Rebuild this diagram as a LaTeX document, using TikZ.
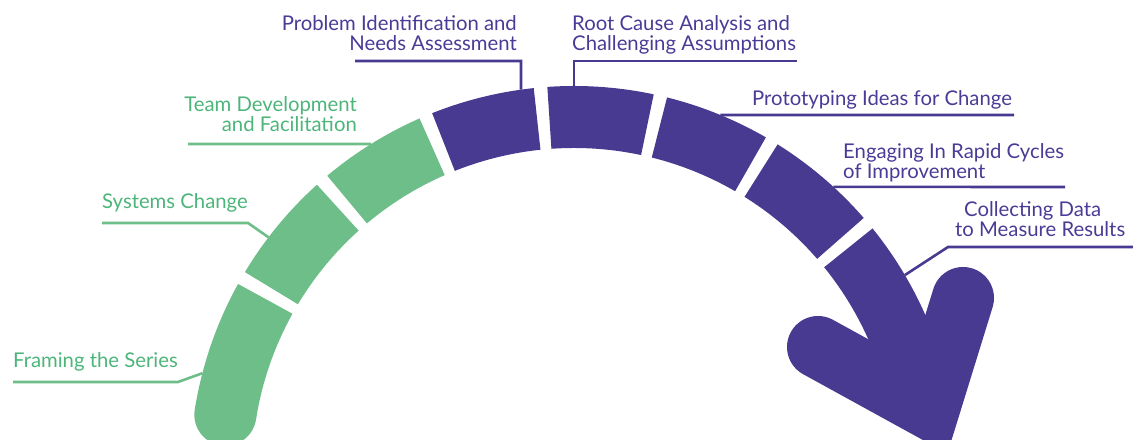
\documentclass[tikz,border=0pt]{standalone}
\usepackage{fontspec}
\setmainfont{Lato}
\usetikzlibrary{calc}
\definecolor{bandG}{HTML}{6EBE89}
\definecolor{textG}{HTML}{4DB57A}
\definecolor{bandP}{HTML}{483A91}
\definecolor{textP}{HTML}{4A3B96}
\begin{document}
\begin{tikzpicture}[x=1bp,y=1bp,
  segG/.style={draw=bandG,line width=62bp,line cap=butt},
  segP/.style={draw=bandP,line width=62bp,line cap=butt},
  headP/.style={draw=bandP,line width=62bp,line cap=round,line join=miter},
  leadG/.style={draw=bandG,line width=2.6bp},
  leadP/.style={draw=bandP,line width=2.6bp},
  lab/.style={inner sep=0pt,font=\fontsize{20.3bp}{20bp}\selectfont},
  labG/.style={lab,text=textG,align=right,anchor=base east},
  labGl/.style={lab,text=textG,align=left,anchor=base west},
  labPr/.style={lab,text=textP,align=right,anchor=base east},
  labPl/.style={lab,text=textP,align=left,anchor=base west}]
\useasboundingbox (0,0) rectangle (1133,440);
\clip (0,0) rectangle (1133,440);
\coordinate (C) at (574,-30);
% band segments
\path[segG] ($(C)+(171:353)$) arc[start angle=171,end angle=151,radius=353];
\fill[bandG] ($(C)+(171:353)$) circle[radius=31];
\path[segG] ($(C)+(149:353)$) arc[start angle=149,end angle=132,radius=353];
\path[segG] ($(C)+(130:353)$) arc[start angle=130,end angle=113.7,radius=353];
\path[segP] ($(C)+(111.7:353)$) arc[start angle=111.7,end angle=96,radius=353];
\path[segP] ($(C)+(94:353)$) arc[start angle=94,end angle=78,radius=353];
\path[segP] ($(C)+(76:353)$) arc[start angle=76,end angle=60,radius=353];
\path[segP] ($(C)+(58:353)$) arc[start angle=58,end angle=41,radius=353];
\coordinate (T) at (929,32);
\coordinate (L) at (818,93);
\coordinate (R) at (963,142);
\path[segP] ($(C)+(39:353)$) arc[start angle=39,end angle=23,radius=353] -- (T);
\path[headP] (L) -- (T) -- (R);
% labels (anchor = baseline of last line)
\node[labGl] (fr) at (13,72) {Framing the Series};
\node[labGl] (sy) at (102,231) {Systems Change};
\node[labG] (td) at (357,308) {Team Development\\and Facilitation};
\node[labPr] (pi) at (517,389) {Problem Identification and\\Needs Assessment};
\node[labPl] (rc) at (572,389) {Root Cause Analysis and\\Challenging Assumptions};
\node[labPl] (pt) at (752,334) {Prototyping Ideas for Change};
\node[labPl] (eg) at (843,261) {Engaging In Rapid Cycles\\of Improvement};
\node[labPl] (cd) at (955,203) {\hspace*{9bp}Collecting Data\\to Measure Results};
% leader coordinates
\coordinate (frA) at (13,58);   \coordinate (frB) at (178,58);  \coordinate (frE) at ($(C)+(165.4:384)$);
\coordinate (syA) at (102,217); \coordinate (syB) at (248,217); \coordinate (syE) at ($(C)+(142.7:384)$);
\coordinate (tdA) at (188,296); \coordinate (tdE) at ($(C)+(121.9:384)$);
\coordinate (piA) at (355,379); \coordinate (piB) at (521,379); \coordinate (piE) at ($(C)+(97.93:384)$);
\coordinate (rcA) at (797,379); \coordinate (rcB) at (574,379); \coordinate (rcE) at ($(C)+(90:384)$);
\coordinate (ptA) at (1014,325); \coordinate (ptE) at ($(C)+(67.6:384)$);
\coordinate (egA) at (1065,253); \coordinate (egE) at ($(C)+(47.5:384)$);
\coordinate (cdA) at (1133,193); \coordinate (cdB) at (948,193); \coordinate (cdE) at ($(C)+(30.5:384)$);
\draw[leadG] (frA) -- (frB) -- (frE);
\draw[leadG] (syA) -- (syB) -- (syE);
\draw[leadG] (tdA) -- (tdE);
\draw[leadP] (piA) -- (piB) -- (piE);
\draw[leadP] (rcA) -- (rcB) -- (rcE);
\draw[leadP] (ptA) -- (ptE);
\draw[leadP] (egA) -- (egE);
\draw[leadP] (cdA) -- (cdB) -- (cdE);
\end{tikzpicture}
\end{document}
